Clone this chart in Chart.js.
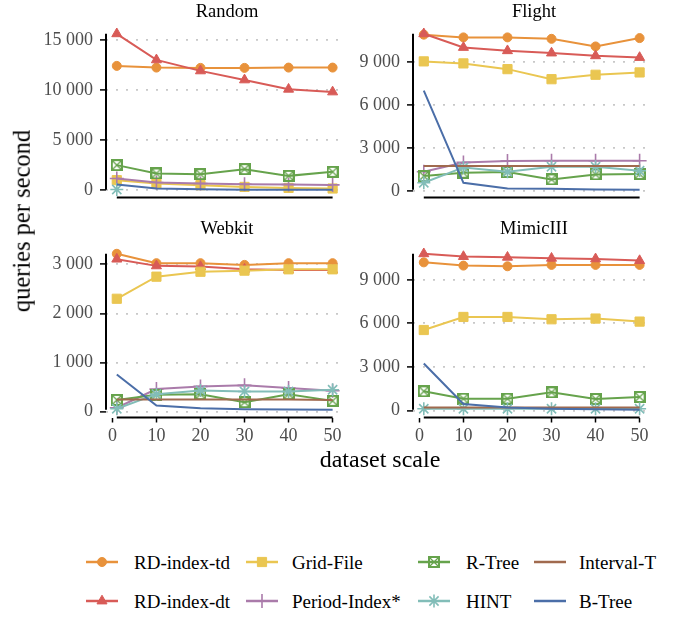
<!DOCTYPE html>
<html>
<head>
<meta charset="utf-8">
<script src="https://cdn.jsdelivr.net/npm/chart.js@4.4.0/dist/chart.umd.min.js"></script>
<style>
  body { margin: 0; background: #fff; font-family: "Liberation Serif", "Times New Roman", serif; }
  #wrap { position: relative; width: 683px; height: 617px; overflow: hidden; }
  canvas.panel { position: absolute; }
  .lbl { position: absolute; transform: translate(-50%, -50%); white-space: nowrap; line-height: 1; color: #000; }
  .key { position: absolute; }
  .ktext { position: absolute; font-size: 19px; line-height: 1; transform: translateY(-50%); white-space: nowrap; color: #000; }
</style>
</head>
<body>
<div id="wrap">
  <canvas id="cRandom" class="panel" width="352" height="217" style="left:0;top:0"></canvas>
  <canvas id="cFlight" class="panel" width="352" height="217" style="left:307px;top:0"></canvas>
  <canvas id="cWebkit" class="panel" width="352" height="230" style="left:0;top:220px"></canvas>
  <canvas id="cMimic" class="panel" width="352" height="230" style="left:307px;top:220px"></canvas>

  <div class="lbl" style="left:227px;top:11px;font-size:18.5px">Random</div>
  <div class="lbl" style="left:534px;top:11px;font-size:18.5px">Flight</div>
  <div class="lbl" style="left:227px;top:228px;font-size:18.5px">Webkit</div>
  <div class="lbl" style="left:534px;top:228px;font-size:18.5px">MimicIII</div>

  <div class="lbl" style="left:22px;top:221px;font-size:24.5px;transform:translate(-50%,-50%) rotate(-90deg)">queries per second</div>
  <div class="lbl" style="left:380px;top:459px;font-size:24px">dataset scale</div>

  <div id="legend"></div>
</div>

<script>
// x positions (dataset scale)
const scalesX = [1, 10, 20, 30, 40, 50];
const xTicks = [0, 10, 20, 30, 40, 50];

// Random (null = no measurement shown)
const randomTd = [12400, 12230, 12200, 12200, 12230, 12230];
const randomDt = [15600, 13000, 11900, 11000, 10070, 9800];
const randomGrid = [1000, 670, 500, 330, 230, 170];
const randomPeriod = [1170, 770, 670, 600, 570, 530];
const randomRtree = [2500, 1670, 1600, 2100, 1430, 1830];
const randomHint = [70, null, null, null, null, null];
const randomInterval = [null, null, null, null, null, null];
const randomBtree = [570, 170, 100, 50, 50, 50];
const randomTicks = [0, 5000, 10000, 15000];

// Flight
const flightTd = [10890, 10700, 10700, 10600, 10070, 10650];
const flightDt = [10950, 10000, 9770, 9610, 9420, 9300];
const flightGrid = [9030, 8890, 8490, 7790, 8100, 8260];
const flightPeriod = [1350, 2000, 2100, 2120, 2120, 2120];
const flightRtree = [1050, 1280, 1330, 815, 1165, 1190];
const flightHint = [580, 1650, 1350, 1700, 1700, 1420];
const flightInterval = [1750, 1750, 1750, 1750, 1750, 1750];
const flightBtree = [7000, 580, 190, 170, 120, 100];
const flightTicks = [0, 3000, 6000, 9000];

// Webkit
const webkitTd = [3216, 3025, 3025, 2990, 3025, 3025];
const webkitDt = [3107, 2970, 2955, 2900, 2887, 2887];
const webkitGrid = [2300, 2750, 2850, 2873, 2900, 2900];
const webkitPeriod = [80, 460, 515, 536, 480, 427];
const webkitRtree = [240, 343, 357, 192, 357, 220];
const webkitHint = [60, 357, 433, 412, 412, 447];
const webkitInterval = [250, 250, 250, 250, 250, 240];
const webkitBtree = [756, 124, 70, 48, 45, 40];
const webkitTicks = [0, 1000, 2000, 3000];

// MimicIII
const mimicTd = [10200, 9976, 9930, 10025, 10025, 10025];
const mimicDt = [10790, 10600, 10550, 10480, 10440, 10320];
const mimicGrid = [5540, 6440, 6440, 6280, 6330, 6120];
const mimicPeriod = [null, null, null, null, null, null];
const mimicRtree = [1316, 810, 810, 1247, 785, 925];
const mimicHint = [115, 115, 115, 115, 115, 115];
const mimicInterval = [210, 210, 210, 210, 210, 210];
const mimicBtree = [3230, 440, 210, 115, 80, 50];
const mimicTicks = [0, 3000, 6000, 9000];

const seriesNames = ['RD-index-td', 'RD-index-dt', 'Grid-File', 'Period-Index*', 'R-Tree', 'HINT', 'Interval-T', 'B-Tree'];
const seriesColors = ['#E8923B', '#D85B57', '#EAC651', '#AA7BAA', '#66A34C', '#82BDB8', '#A06A4E', '#4B6EA8'];

// boxed X marker for R-Tree
function boxedX(color) {
  const c = document.createElement('canvas');
  c.width = 12; c.height = 12;
  const g = c.getContext('2d');
  g.strokeStyle = color;
  g.lineWidth = 2;
  g.strokeRect(1, 1, 10, 10);
  g.lineWidth = 1.3;
  g.beginPath();
  g.moveTo(1, 1); g.lineTo(11, 11);
  g.moveTo(11, 1); g.lineTo(1, 11);
  g.stroke();
  return c;
}

const markers = [
  { pointStyle: 'circle', radius: 4.5, borderWidth: 1 },
  { pointStyle: 'triangle', radius: 5.8, borderWidth: 1 },
  { pointStyle: 'rect', radius: 6.5, borderWidth: 1 },
  { pointStyle: 'cross', radius: 7, borderWidth: 1.6 },
  { pointStyle: boxedX(seriesColors[4]), radius: 6, borderWidth: 0 },
  { pointStyle: 'star', radius: 6.5, borderWidth: 1.6 },
  null,
  null
];

Chart.defaults.font.family = '"Liberation Serif", "Times New Roman", serif';
Chart.defaults.font.size = 18;
Chart.defaults.color = '#4d4d4d';
Chart.defaults.animation = false;

const fmt = v => String(v).replace(/\B(?=(\d{3})+(?!\d))/g, ' ');

// ggplot-like range frame: axis lines only span the data
const rangeFrame = {
  id: 'rangeFrame',
  beforeDatasetsDraw(chart) {
    const { ctx, chartArea, scales: { x, y } } = chart;
    const ys = chart.data.datasets.flatMap(d => d.data.map(p => p.y)).filter(v => v !== null);
    const xs = chart.data.datasets[0].data.map(p => p.x);
    ctx.save();
    ctx.strokeStyle = '#000';
    ctx.lineWidth = 2;
    ctx.beginPath();
    ctx.moveTo(chartArea.left, y.getPixelForValue(Math.max(...ys)));
    ctx.lineTo(chartArea.left, y.getPixelForValue(Math.min(...ys)));
    ctx.moveTo(x.getPixelForValue(Math.min(...xs)), chartArea.bottom);
    ctx.lineTo(x.getPixelForValue(Math.max(...xs)), chartArea.bottom);
    ctx.stroke();
    ctx.restore();
  }
};

function makePanel(id, series, yTicks, showX) {
  const all = series.flat().filter(v => v !== null);
  const lo = Math.min(...all), hi = Math.max(...all);
  const pad = (hi - lo) * 0.05;
  const xPad = (scalesX[scalesX.length - 1] - scalesX[0]) * 0.05;

  const datasets = series.map((vals, i) => {
    const m = markers[i];
    return {
      label: seriesNames[i],
      data: vals.map((v, k) => ({ x: scalesX[k], y: v })),
      borderColor: seriesColors[i],
      backgroundColor: seriesColors[i],
      borderWidth: 2,
      pointStyle: m ? m.pointStyle : false,
      pointRadius: m ? m.radius : 0,
      pointBorderWidth: m ? m.borderWidth : 0,
      pointHoverRadius: 0,
      order: seriesNames.length - i,
      tension: 0
    };
  });

  return new Chart(document.getElementById(id), {
    type: 'line',
    data: { datasets },
    options: {
      responsive: false,
      layout: { padding: { top: 26, right: 4, bottom: 0, left: 0 } },
      plugins: { legend: { display: false }, tooltip: { enabled: false } },
      scales: {
        x: {
          type: 'linear',
          min: scalesX[0] - xPad,
          max: scalesX[scalesX.length - 1] + xPad,
          afterBuildTicks: s => { s.ticks = xTicks.map(v => ({ value: v })); },
          afterFit: s => { s.height = showX ? 32.5 : 19.5; },
          border: { display: false },
          grid: { display: showX, drawOnChartArea: false, tickLength: 5, tickColor: '#000', tickWidth: 1.5 },
          ticks: { display: showX, padding: 3, maxRotation: 0, autoSkip: false }
        },
        y: {
          type: 'linear',
          min: lo - pad,
          max: hi + pad,
          afterBuildTicks: s => { s.ticks = yTicks.map(v => ({ value: v })); },
          afterFit: s => { s.width = 106; },
          border: { display: false, dash: [2, 8] },
          grid: { color: '#c8c8c8', lineWidth: 1.8, tickLength: 6, tickColor: '#000', tickWidth: 1.5, tickBorderDash: [] },
          ticks: { padding: 7, callback: v => fmt(v) }
        }
      }
    },
    plugins: [rangeFrame]
  });
}

makePanel('cRandom', [randomTd, randomDt, randomGrid, randomPeriod, randomRtree, randomHint, randomInterval, randomBtree], randomTicks, false);
makePanel('cFlight', [flightTd, flightDt, flightGrid, flightPeriod, flightRtree, flightHint, flightInterval, flightBtree], flightTicks, false);
makePanel('cWebkit', [webkitTd, webkitDt, webkitGrid, webkitPeriod, webkitRtree, webkitHint, webkitInterval, webkitBtree], webkitTicks, true);
makePanel('cMimic', [mimicTd, mimicDt, mimicGrid, mimicPeriod, mimicRtree, mimicHint, mimicInterval, mimicBtree], mimicTicks, true);

// legend: 4 columns x 2 rows, filled column by column
const legendKeyX = [86, 246, 418, 534];
const legendTextX = [134, 292, 466, 579];
const legendRowY = [562, 601];
const legend = document.getElementById('legend');
seriesNames.forEach((name, i) => {
  const col = Math.floor(i / 2), row = i % 2;
  const cv = document.createElement('canvas');
  cv.width = 32; cv.height = 20;
  cv.className = 'key';
  cv.style.left = legendKeyX[col] + 'px';
  cv.style.top = (legendRowY[row] - 10) + 'px';
  const g = cv.getContext('2d');
  g.strokeStyle = seriesColors[i];
  g.lineWidth = 2.5;
  g.beginPath(); g.moveTo(0, 10); g.lineTo(32, 10); g.stroke();
  const m = markers[i];
  if (m) {
    g.fillStyle = seriesColors[i];
    g.strokeStyle = seriesColors[i];
    g.lineWidth = m.borderWidth;
    if (Chart.helpers && Chart.helpers.drawPoint) {
      Chart.helpers.drawPoint(g, { pointStyle: m.pointStyle, radius: m.radius, borderWidth: m.borderWidth, rotation: 0 }, 16, 10);
    }
  }
  legend.appendChild(cv);
  const t = document.createElement('div');
  t.className = 'ktext';
  t.style.left = legendTextX[col] + 'px';
  t.style.top = legendRowY[row] + 'px';
  t.textContent = name;
  legend.appendChild(t);
});
</script>
</body>
</html>
